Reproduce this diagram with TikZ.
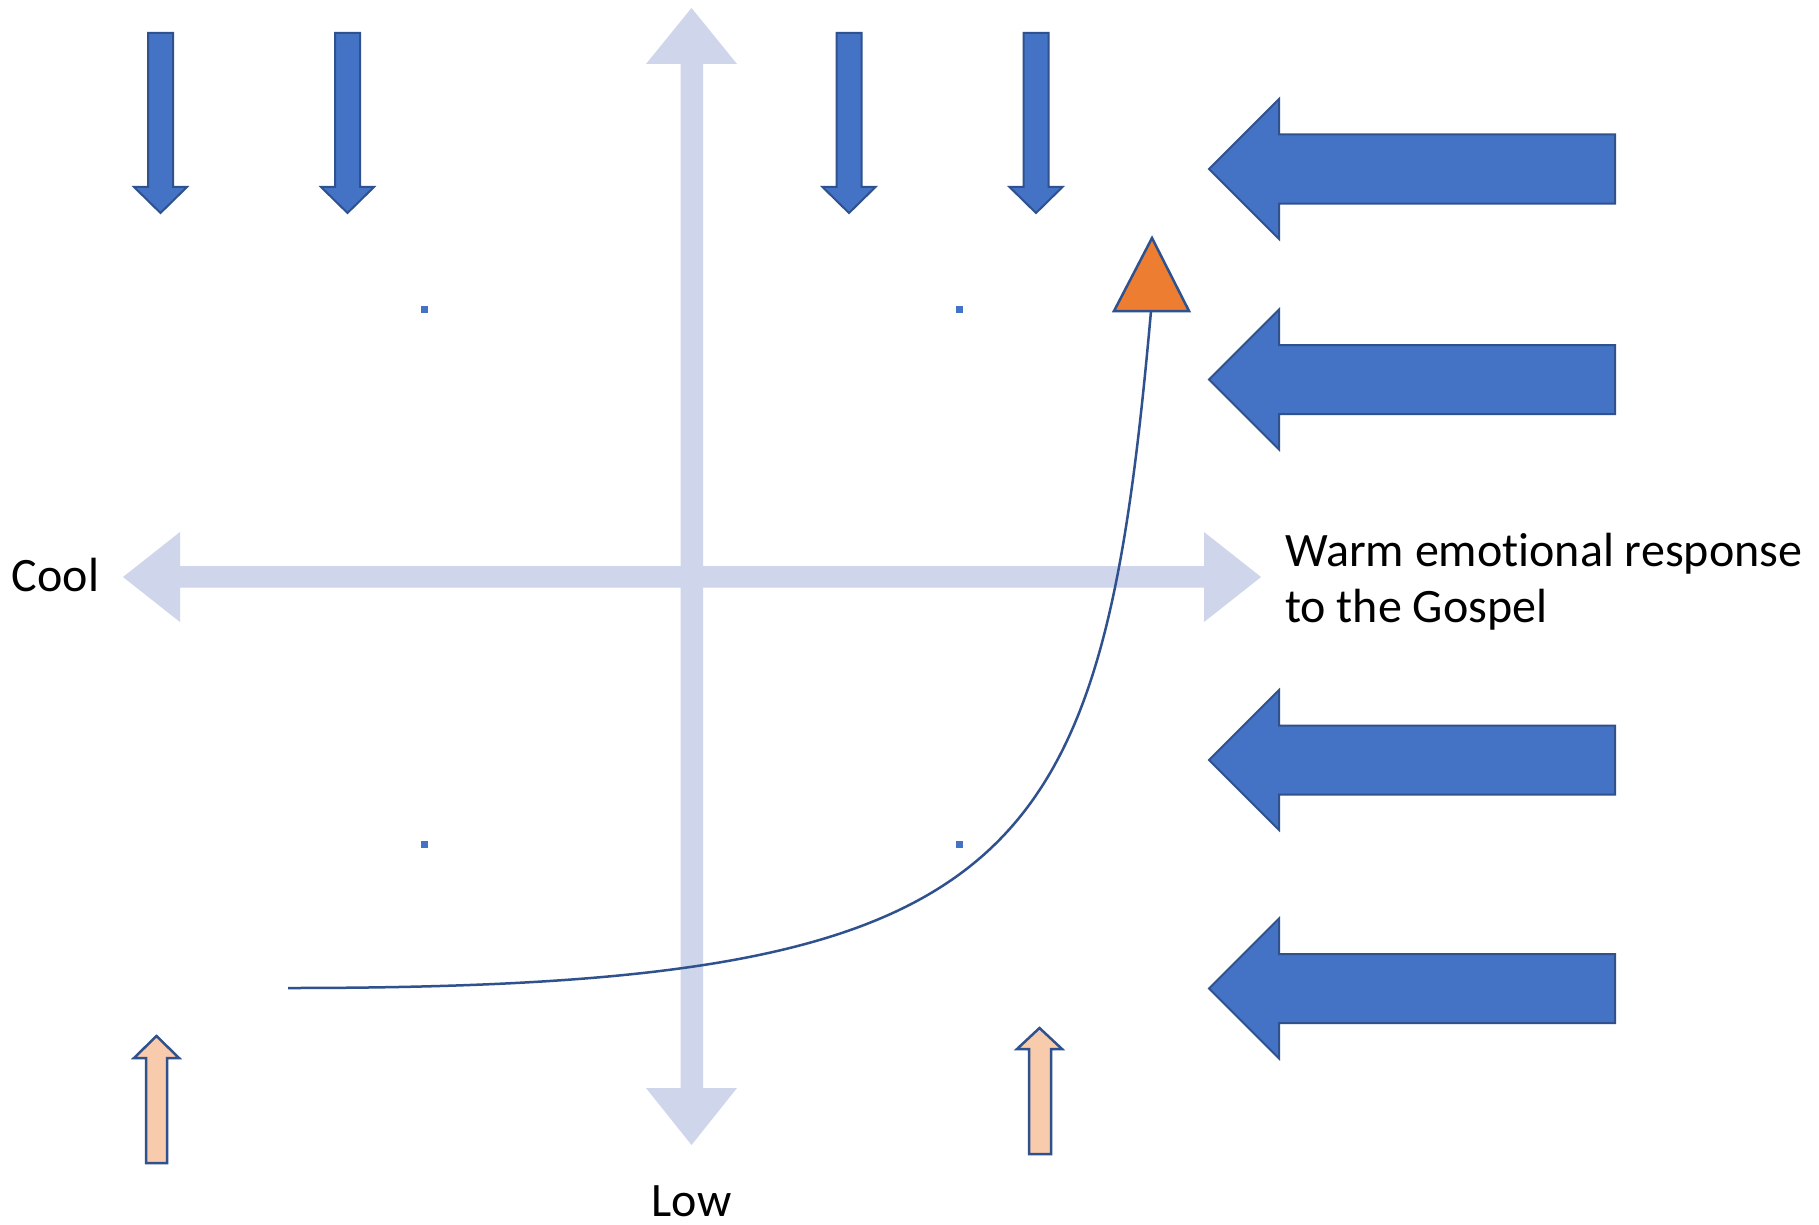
\documentclass[tikz,border=0pt]{standalone}
\usepackage{fontspec}
\setmainfont[Ligatures=NoCommon]{Carlito}
\definecolor{axisc}{HTML}{CFD5EA}
\definecolor{bluef}{HTML}{4472C4}
\definecolor{blueb}{HTML}{2F528F}
\definecolor{peachf}{HTML}{F8CBAD}
\definecolor{orangef}{HTML}{ED7D31}
\begin{document}
\begin{tikzpicture}[x=1pt,y=-1pt,
  axisarrow/.style={fill=axisc,draw=none},
  bluearrow/.style={fill=bluef,draw=blueb,line width=2pt,line join=miter},
  peacharrow/.style={fill=peachf,draw=blueb,line width=2.5pt,line join=miter},
  dotsq/.style={fill=bluef,draw=none},
  curveline/.style={draw=blueb,line width=2.5pt},
  tri/.style={fill=orangef,draw=blueb,line width=2.5pt,line join=miter},
  lbl/.style={inner sep=0pt,outer sep=0pt,text=black,font=\fontsize{48}{57}\selectfont}]
\useasboundingbox (0,0) rectangle (1819,1225);
\fill[white] (0,0) rectangle (1819,1225);
% vertical axis
\path[axisarrow] (691.5,8) -- (737,64) -- (703,64) -- (703,1088) -- (737,1088) -- (691.5,1145)
  -- (646,1088) -- (680.5,1088) -- (680.5,64) -- (646,64) -- cycle;
% horizontal axis
\path[axisarrow] (123,577) -- (180,532) -- (180,566) -- (1204,566) -- (1204,532) -- (1261,577)
  -- (1204,622) -- (1204,587.5) -- (180,587.5) -- (180,622) -- cycle;
% top down arrows
\foreach \cx in {160.5,347.5,849,1036}{
  \path[bluearrow] (\cx-12.5,33) -- (\cx+12.5,33) -- (\cx+12.5,187) -- (\cx+26.5,187)
    -- (\cx,213) -- (\cx-26.5,187) -- (\cx-12.5,187) -- cycle;
}
% right left-pointing arrows
\foreach \cy in {169,379.5,760,988.5}{
  \path[bluearrow] (1209,\cy) -- (1279,\cy-70) -- (1279,\cy-34.5) -- (1615,\cy-34.5)
    -- (1615,\cy+34.5) -- (1279,\cy+34.5) -- (1279,\cy+70) -- cycle;
}
% peach up arrows
\path[peacharrow] (156.5,1036) -- (179,1058) -- (167,1058) -- (167,1163) -- (146,1163)
  -- (146,1058) -- (134,1058) -- cycle;
\path[peacharrow] (1039.5,1028) -- (1062,1049) -- (1051,1049) -- (1051,1154) -- (1029,1154)
  -- (1029,1049) -- (1017,1049) -- cycle;
% small dots
\foreach \dx/\dy in {424.5/309.5,959/309.5,424.5/844.5,959/844.5}{
  \fill[dotsq] (\dx-3.5,\dy-3.5) rectangle (\dx+3.5,\dy+3.5);
}
% curve
\coordinate (cstart) at (288,988);
\coordinate (tribase) at (1151,311);
\draw[curveline] (cstart) .. controls (1028,988) and (1101,871) .. (tribase);
% triangle
\path[tri] (1152,238) -- (1189,311) -- (1114,311) -- cycle;
% labels
\node[lbl,anchor=base west] (cool) at (12,591) {Cool};
\node[lbl,anchor=base west] (warm1) at (1285,566) {Warm emotional response};
\node[lbl,anchor=base west] (warm2) at (1285,622) {to the Gospel};
\node[lbl,anchor=base] (low) at (691.5,1216) {Low};
\end{tikzpicture}
\end{document}
